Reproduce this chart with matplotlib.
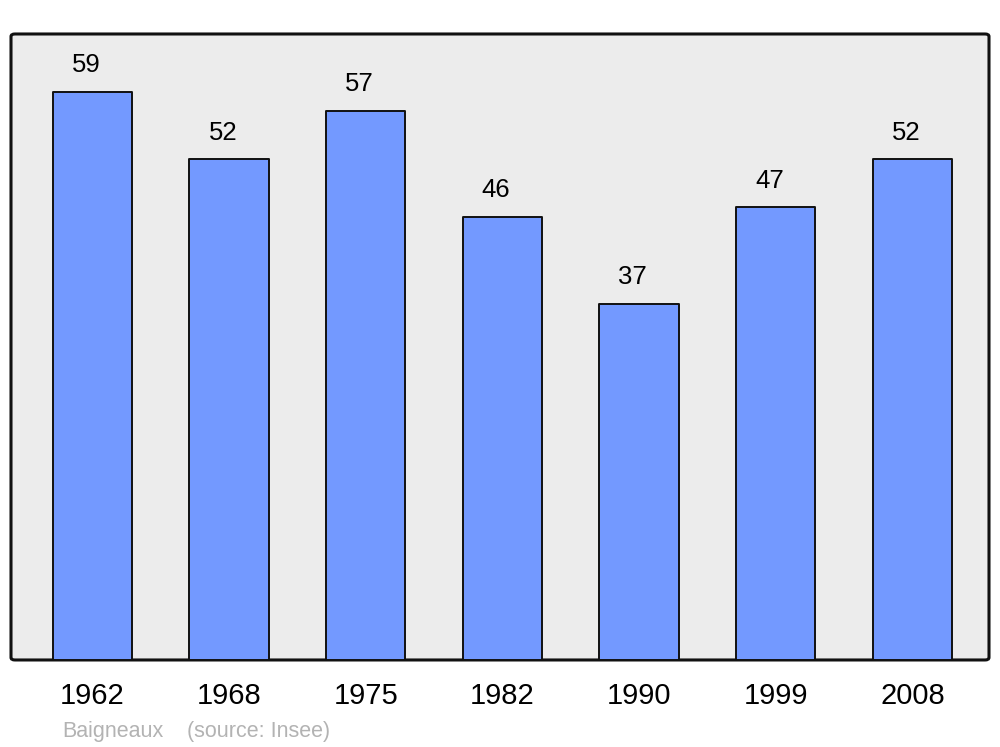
import matplotlib.pyplot as plt
from matplotlib.patches import FancyBboxPatch

years = ['1962', '1968', '1975', '1982', '1990', '1999', '2008']
population = [59, 52, 57, 46, 37, 47, 52]

plt.rcParams['font.family'] = ['Liberation Sans', 'DejaVu Sans']

fig = plt.figure(figsize=(10, 7.47), dpi=100)
ax = fig.add_axes([0.011, 0.1165, 0.978, 0.838])
ax.set_facecolor('none')
for s in ax.spines.values():
    s.set_visible(False)

# rounded grey frame
frame = FancyBboxPatch((0, 0), 1, 1, boxstyle='round,pad=0,rounding_size=0.004',
                       transform=ax.transAxes, facecolor='#ececec', edgecolor='#111111',
                       linewidth=2.2, clip_on=False, zorder=0)
ax.add_patch(frame)

x = range(len(years))
bars = ax.bar(x, population, width=0.58, color='#7399ff', edgecolor='#111111',
              linewidth=1.4, zorder=2)
for b in bars:
    b.set_joinstyle('round')

for xi, v in zip(x, population):
    ax.annotate(str(v), (xi, v), xytext=(-4.5, 10.5), textcoords='offset points',
                ha='center', va='bottom', fontsize=18.5, color='black')

ax.set_xlim(-0.595, 6.56)
ax.set_ylim(0, 65)
ax.set_xticks(list(x))
ax.set_xticklabels(years, fontsize=21)
ax.tick_params(axis='x', length=0, pad=16)
ax.set_yticks([])

fig.text(0.062, 0.007, 'Baigneaux', fontsize=15.5, color='#b3b3b3', va='bottom')
fig.text(0.187, 0.007, '(source: Insee)', fontsize=15.5, color='#b3b3b3', va='bottom')

fig.savefig('out.png', dpi=100)
